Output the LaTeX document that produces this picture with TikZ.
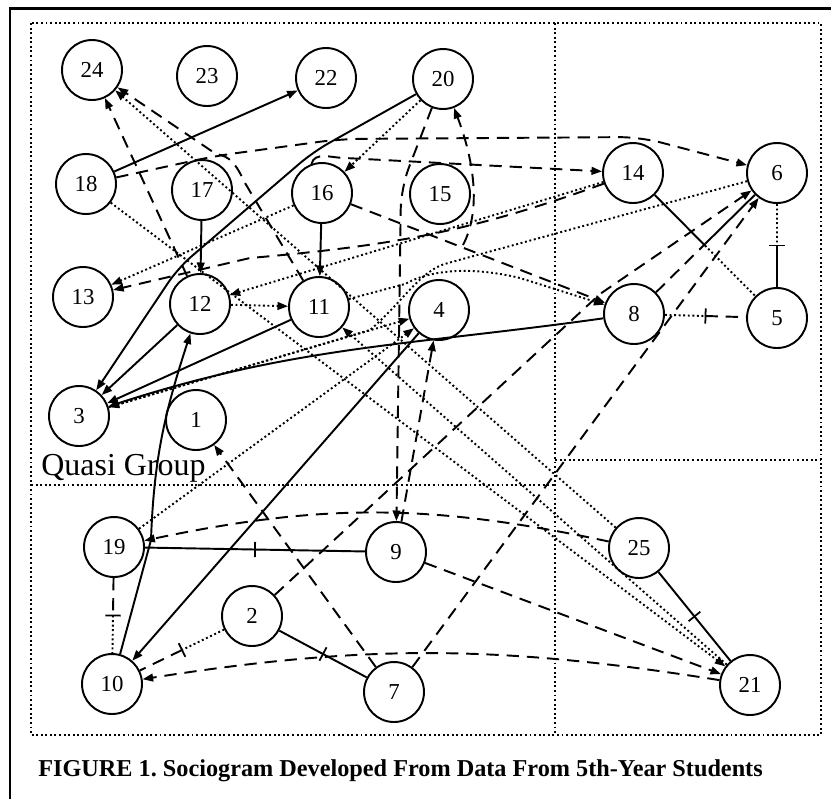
\documentclass[tikz,border=0pt]{standalone}
\usepackage{fontspec}
\setmainfont{Liberation Serif}
\usetikzlibrary{arrows.meta,calc,decorations.markings}

\begin{document}
\frenchspacing
\begin{tikzpicture}[x=0.02cm, y=-0.02cm, >={Triangle[length=6pt,width=4.4pt]}]
\tikzstyle{person} = [circle, draw, line width=1.1pt, minimum size=1.2cm, inner sep=0pt,
                      font=\fontsize{13}{15}\selectfont]
\tikzstyle{link} = [draw, line width=1.1pt]
\tikzstyle{dlink} = [link, dash pattern=on 7pt off 4.5pt]
\tikzstyle{plink} = [draw, line width=1.1pt, dash pattern=on 1.1pt off 1.5pt]
\tikzstyle{frame} = [draw, line width=1.1pt, dash pattern=on 1.1pt off 1.5pt]
\tikzstyle{tick} = [postaction=decorate, decoration={markings,
                    mark=at position .5 with {\draw[solid, line width=1pt] (0,-4.3pt) -- (0,4.3pt);}}]

\useasboundingbox (0,0) rectangle (831,799);
\draw[line width=1.7pt] (10,799) -- (10,8) -- (831,8);

% regions
\draw[frame] (31,23) rectangle (821,735);
\draw[frame] (555,23) -- (555,735);
\draw[frame] (31,485) -- (555,485);
\draw[frame] (555,460) -- (821,460);

% students
\node[person] (s24) at (92,70) {24};
\node[person] (s23) at (207,76) {23};
\node[person] (s22) at (326,78) {22};
\node[person] (s20) at (443,79) {20};
\node[person] (s18) at (86,184) {18};
\node[person] (s17) at (202,190) {17};
\node[person] (s16) at (322,193) {16};
\node[person] (s15) at (440,194) {15};
\node[person] (s14) at (633,173) {14};
\node[person] (s6) at (777,173) {6};
\node[person] (s13) at (83,297) {13};
\node[person] (s12) at (200,304) {12};
\node[person] (s11) at (319,307) {11};
\node[person] (s4) at (439,310) {4};
\node[person] (s8) at (634,314) {8};
\node[person] (s5) at (777,318) {5};
\node[person] (s3) at (79,416) {3};
\node[person] (s1) at (196,420) {1};
\node[person] (s19) at (114,547) {19};
\node[person] (s9) at (396,552) {9};
\node[person] (s25) at (639,548) {25};
\node[person] (s2) at (252,616) {2};
\node[person] (s10) at (112,684) {10};
\node[person] (s7) at (394,692) {7};
\node[person] (s21) at (750,685) {21};

\node[anchor=base west, inner sep=0pt, font=\fontsize{18.2}{21}\selectfont] (quasi) at (41,475) {Quasi Group};
\node[anchor=base west, inner sep=0pt, font=\bfseries\fontsize{13.8}{16}\selectfont] (caption) at (38,776)
  {FIGURE 1. Sociogram Developed From Data From 5th-Year Students};

% solid ties
\path[link,->] (s18) -- (s22);
\path[link,->,rounded corners=10pt] (s20) -- (313,152) -- (178,268) -- (s3);
\path[link,->] (s17) -- (s12);
\path[link,->] (s16) -- (s11);
\path[link,->] (s12) -- (s3);
\path[link,->] (s11) -- (s3);
\path[link,->] (s8) to[out=188,in=18] (s3);
\path[link,->] (s4) -- (s10);
\path[link,->] (s10) -- (151,540) to[out=88,in=-108] (s12);
\path[link,tick] (s2) -- (s7);
\path[link,tick] (s19) -- (s9);
\path[link,tick] (s25) -- (s21);

% mixed ties
\coordinate (m145) at ($(s14)!.5!(s5)$);
\path[link] (s14) -- (m145);
\path[plink] (m145) -- (s5);
\coordinate (m86) at ($(s8)!.5!(s6)$);
\path[dlink] (s8) -- (m86);
\path[link] (m86) -- (s6);
\coordinate (m65) at ($(s6)!.5!(s5)$);
\path[plink] (s6) -- (m65);
\path[link] (m65) -- (s5);
\path[tick] (s6) -- (s5);
\coordinate (m85) at ($(s8)!.5!(s5)$);
\path[plink] (s8) -- (m85);
\path[dlink] (m85) -- (s5);
\path[tick] (s8) -- (s5);
\coordinate (m1910) at ($(s19)!.5!(s10)$);
\path[dlink] (s19) -- (m1910);
\path[plink] (m1910) -- (s10);
\path[tick] (s19) -- (s10);
\coordinate (m210) at ($(s2)!.5!(s10)$);
\path[plink] (s2) -- (m210);
\path[dlink] (m210) -- (s10);
\path[tick] (s2) -- (s10);

% dashed choices
\path[dlink,->] (s12) -- (s24);
\path[dlink,->] (s11) -- (245,183) .. controls (236,164) and (230,156) .. (216,154) -- (s24);
\path[dlink,->,rounded corners=12pt] (s18) -- (215,156) -- (340,139) -- (640,137) -- (s6);
\path[dlink,->] (s16.110) to[out=75,in=180] (345,158) -- (s14);
\path[dlink,->] (s16) -- (s8);
\coordinate (fork) at (463,245);
\path[dlink,->] (fork) .. controls (484,205) and (470,150) .. (s20);
\path[dlink,->,rounded corners=12pt] (s20) -- (401,188) -- (s9);
\path[dlink,->] (s9) -- (s4);
\path[dlink,->] (s14) to[out=200,in=5] (250,258) -- (s13);
\path[dlink,->] (s7) -- (s1);
\path[dlink,->] (s9) -- (s21);
\path[dlink,->] (s21) to[bend right=9] (s10);
\path[dlink,->] (s7) -- (s6);
\path[dlink,->] (s2) -- (600,294) -- (s6);
\path[dlink,->] (s25) to[bend right=12] (s19);

% dotted choices
\path[plink,->] (s20) -- (s16);
\path[plink,->] (s12) -- (s11);
\path[plink,->] (s14) -- (s12);
\path[plink,->] (s16) -- (s13);
\path[plink,->] (s6) -- (448,263) .. controls (420,270) and (405,300) .. (370,330) -- (s3);
\path[plink,->] (s11) -- (405,284) .. controls (430,270) and (470,266) .. (520,278) -- (s8);
\path[plink,->] (s3) -- (s4);
\path[plink,->] (s19) -- (s4);
\path[plink,->] (s18) -- (s21);
\path[plink,->] (s25) -- (s24);
\path[plink,->] (s21) -- (s11);
\end{tikzpicture}
\end{document}
